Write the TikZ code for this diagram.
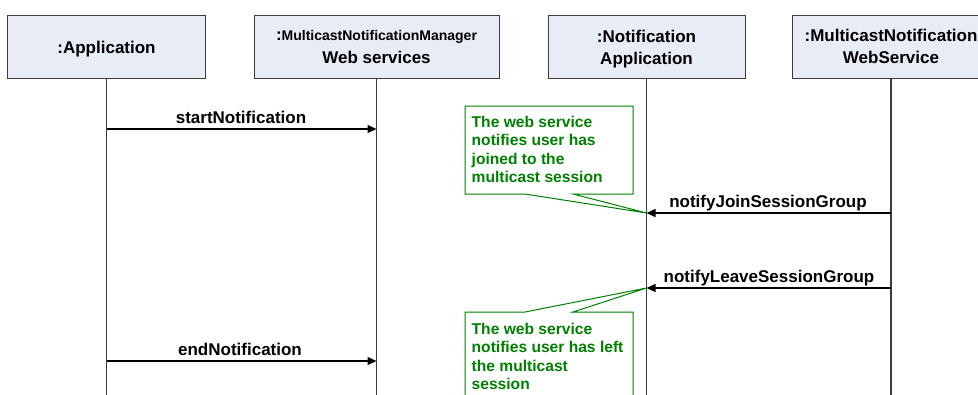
\documentclass[tikz,border=0pt]{standalone}
\usepackage{fontspec}
\setmainfont{Liberation Sans}
\usetikzlibrary{arrows.meta}
\definecolor{hdrfill}{RGB}{232,236,246}
\definecolor{hdrline}{RGB}{60,60,60}
\definecolor{notegreen}{RGB}{0,128,0}
\tikzset{
 hdr/.style={draw=hdrline, fill=hdrfill, line width=1bp, minimum height=63bp, inner sep=0pt},
 hdrtext/.style={font=\bfseries\fontsize{17bp}{21bp}\selectfont, inner sep=0pt, anchor=base},
 life/.style={draw=hdrline, line width=1.2bp},
 msg/.style={line width=1.2bp, -{Triangle[length=9bp,width=8bp]}},
 msglabel/.style={font=\bfseries\fontsize{17bp}{20bp}\selectfont, inner sep=0pt, anchor=base},
 notebox/.style={draw=notegreen, fill=white, line width=1bp},
 notetext/.style={text=notegreen, font=\bfseries\fontsize{15.6bp}{18.6bp}\selectfont, align=left, anchor=north west, inner sep=0pt},
}
\begin{document}
\begin{tikzpicture}[x=1bp,y=-1bp]
\useasboundingbox (0,0) rectangle (978,394);
\clip (0,0) rectangle (978,394);
% headers
\node[hdr, minimum width=197bp] (app) at (106.5,46.5) {};
\node[hdr, minimum width=245bp] (mgr) at (376.5,46.5) {};
\node[hdr, minimum width=197bp] (nap) at (646.5,47) {};
\node[hdr, minimum width=197bp] (mws) at (891,46.5) {};
\node[hdrtext] (appT) at (106.5,53) {:Application};
\node[hdrtext] (mgrT1) at (376.5,40) {:{\fontsize{14bp}{21bp}\selectfont MulticastNotificationManager}};
\node[hdrtext] (mgrT2) at (376.5,63.5) {Web services};
\node[hdrtext] (napT1) at (646.5,42) {:Notification};
\node[hdrtext] (napT2) at (646.5,64) {Application};
\node[hdrtext] (mwsT1) at (891,41.5) {:MulticastNotification};
\node[hdrtext] (mwsT2) at (891,63.5) {WebService};
% lifelines
\coordinate (appEnd) at (app.south |- 0,400);
\coordinate (mgrEnd) at (mgr.south |- 0,400);
\coordinate (napEnd) at (nap.south |- 0,400);
\coordinate (mwsEnd) at (mws.south |- 0,400);
\draw[life] (app.south) -- (appEnd);
\draw[life] (mgr.south) -- (mgrEnd);
\draw[life] (nap.south) -- (napEnd);
\draw[life] (mws.south) -- (mwsEnd);
% message points
\coordinate (s1) at (app.south |- 0,129);
\coordinate (s2) at (mgr.south |- 0,129);
\coordinate (j1) at (mws.south |- 0,213);
\coordinate (j2) at (nap.south |- 0,213);
\coordinate (l1) at (mws.south |- 0,288);
\coordinate (l2) at (nap.south |- 0,288);
\coordinate (e1) at (app.south |- 0,361);
\coordinate (e2) at (mgr.south |- 0,361);
% notes
\draw[notebox] (465,106) -- (633,106) -- (633,194) -- (573,194) -- (j2) -- (525,194) -- (465,194) -- cycle;
\node[notetext] (n1) at (471.5,115.5) {The web service\\notifies user has\\joined to the\\multicast session};
\draw[notebox] (465,312) -- (525,312) -- (l2) -- (573,312) -- (633,312) -- (633,400) -- (465,400) -- cycle;
\node[notetext] (n2) at (471.5,322.5) {The web service\\notifies user has left\\the multicast\\session};
% messages
\draw[msg] (s1) -- (s2);
\node[msglabel] (m1) at (241,123) {startNotification};
\draw[msg] (j1) -- (j2);
\node[msglabel] (m2) at (768,207.5) {notifyJoinSessionGroup};
\draw[msg] (l1) -- (l2);
\node[msglabel] (m3) at (769,282.5) {notifyLeaveSessionGroup};
\draw[msg] (e1) -- (e2);
\node[msglabel] (m4) at (240,355) {endNotification};
\end{tikzpicture}
\end{document}
